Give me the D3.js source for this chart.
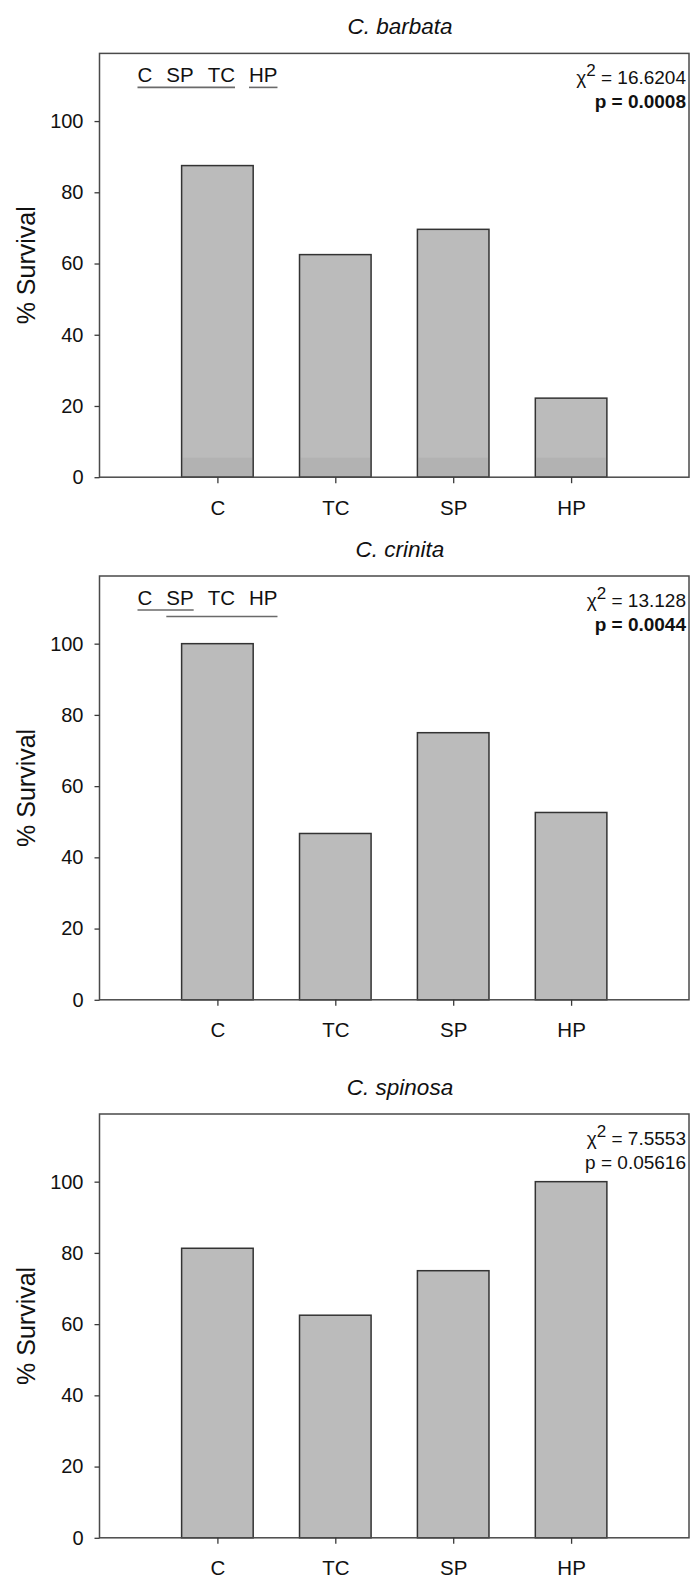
<!DOCTYPE html>
<html>
<head>
<meta charset="utf-8">
<script src="https://cdn.jsdelivr.net/npm/d3@7"></script>
<style>
  html, body { margin: 0; padding: 0; background: #fff; }
  svg { display: block; font-family: "Liberation Sans", Arial, sans-serif; }
</style>
</head>
<body>
<script>
// Survival of seedlings under four treatments, one panel per species
const categories = ["C", "TC", "SP", "HP"];
const yTicks = [0, 20, 40, 60, 80, 100];

const speciesNames = ["C. barbata", "C. crinita", "C. spinosa"];
const barbataSurvival = [87.5, 62.5, 69.6, 22.2];
const crinitaSurvival = [100, 46.7, 75, 52.6];
const spinosaSurvival = [81.3, 62.5, 75, 100];

const chiSquare = ["16.6204", "13.128", "7.5553"];
const pValues = ["0.0008", "0.0044", "0.05616"];
const pSignificant = [true, true, false];

// Homogeneous-group notation: treatment order and underlined spans (index ranges)
const groupOrder = [["C", "SP", "TC", "HP"], ["C", "SP", "TC", "HP"], []];
const groupSpans = [[[0, 2], [3, 3]], [[0, 1], [1, 3]], []];

const survival = [barbataSurvival, crinitaSurvival, spinosaSurvival];

const W = 690, H = 1579;
const left = 99.5, right = 689;
const plotH = 423.8;
const panelTops = [53.4, 576, 1114];
const yMax = 119;

const svg = d3.select("body").append("svg")
  .attr("width", W).attr("height", H);

const x = d3.scalePoint().domain(categories).range([left, right]).padding(1);
const barW = x.step() * 0.607;

speciesNames.forEach((name, i) => {
  const top = panelTops[i];
  const y = d3.scaleLinear().domain([0, yMax]).range([top + plotH, top]);
  const g = svg.append("g");
  const values = survival[i];

  // title
  g.append("text")
    .attr("x", 400).attr("y", top - 19.5)
    .attr("text-anchor", "middle")
    .attr("font-size", 22.5).attr("font-style", "italic")
    .attr("fill", "#111")
    .text(name);

  // bars
  g.selectAll("rect.bar").data(values).join("rect")
    .attr("class", "bar")
    .attr("x", (d, j) => x(categories[j]) - barW / 2)
    .attr("y", d => y(d))
    .attr("width", barW)
    .attr("height", d => y(0) - y(d))
    .attr("fill", "#bbbbbb")
    .attr("stroke", "#333")
    .attr("stroke-width", 1.5);

  if (i === 0) {
    // slightly darker base band on the first panel's bars
    g.selectAll("rect.band").data(values).join("rect")
      .attr("class", "band")
      .attr("x", (d, j) => x(categories[j]) - barW / 2 + 1)
      .attr("y", y(5.5))
      .attr("width", barW - 2)
      .attr("height", y(0) - y(5.5) - 0.8)
      .attr("fill", "#000").attr("opacity", 0.045);
  }

  // frame
  g.append("rect")
    .attr("x", left).attr("y", top)
    .attr("width", right - left).attr("height", plotH)
    .attr("fill", "none").attr("stroke", "#4a4a4a").attr("stroke-width", 1.5);

  // y axis
  const ya = g.append("g")
    .attr("transform", `translate(${left},0)`)
    .call(d3.axisLeft(y).tickValues(yTicks).tickSize(5).tickPadding(11));
  ya.select(".domain").remove();
  ya.selectAll("line").attr("stroke", "#3a3a3a").attr("stroke-width", 1.3);
  ya.selectAll("text").attr("font-size", 20).attr("fill", "#111")
    .attr("font-family", "'Liberation Sans', Arial, sans-serif");

  // x axis
  const xa = g.append("g")
    .attr("transform", `translate(0,${y(0)})`)
    .call(d3.axisBottom(x).tickSize(6).tickPadding(17));
  xa.select(".domain").remove();
  xa.selectAll("line").attr("stroke", "#3a3a3a").attr("stroke-width", 1.3);
  xa.selectAll("text").attr("font-size", 20.5).attr("fill", "#111")
    .attr("font-family", "'Liberation Sans', Arial, sans-serif");

  // y axis title
  g.append("text")
    .attr("transform", `translate(35,${top + plotH / 2}) rotate(-90)`)
    .attr("text-anchor", "middle")
    .attr("font-size", 25).attr("fill", "#111")
    .text("% Survival");

  // chi-square statistic
  const chi = g.append("text")
    .attr("x", 686).attr("y", top + 30.5)
    .attr("text-anchor", "end")
    .attr("font-size", 19).attr("fill", "#111");
  chi.append("tspan").text("χ");
  chi.append("tspan").attr("dy", -8).attr("font-size", 17).text("2");
  chi.append("tspan").attr("dy", 8).text(" = " + chiSquare[i]);

  g.append("text")
    .attr("x", 686).attr("y", top + 54.5)
    .attr("text-anchor", "end")
    .attr("font-size", 19).attr("fill", "#111")
    .attr("font-weight", pSignificant[i] ? "bold" : "normal")
    .text("p = " + pValues[i]);

  // homogeneous groups, laid out left to right and underlined
  const order = groupOrder[i];
  if (order.length) {
    const base = top + 28.5;
    let cx = 137.5;
    const extents = [];
    order.forEach(lbl => {
      const t = g.append("text")
        .attr("x", cx).attr("y", base)
        .attr("font-size", 20.5).attr("fill", "#111")
        .text(lbl);
      const w = t.node().getComputedTextLength();
      extents.push([cx, cx + w]);
      cx += w + 14;
    });
    const overlaps = groupSpans[i].some((s, k) =>
      groupSpans[i].some((o, m) => m !== k && s[0] <= o[1] && o[0] <= s[1]));
    groupSpans[i].forEach((s, k) => {
      const row = overlaps ? k : 0;
      const ly = base + 5.5 + row * 6.5;
      g.append("line")
        .attr("x1", extents[s[0]][0]).attr("x2", extents[s[1]][1])
        .attr("y1", ly).attr("y2", ly)
        .attr("stroke", "#6a6a6a").attr("stroke-width", 1.6);
    });
  }
});
</script>
</body>
</html>
